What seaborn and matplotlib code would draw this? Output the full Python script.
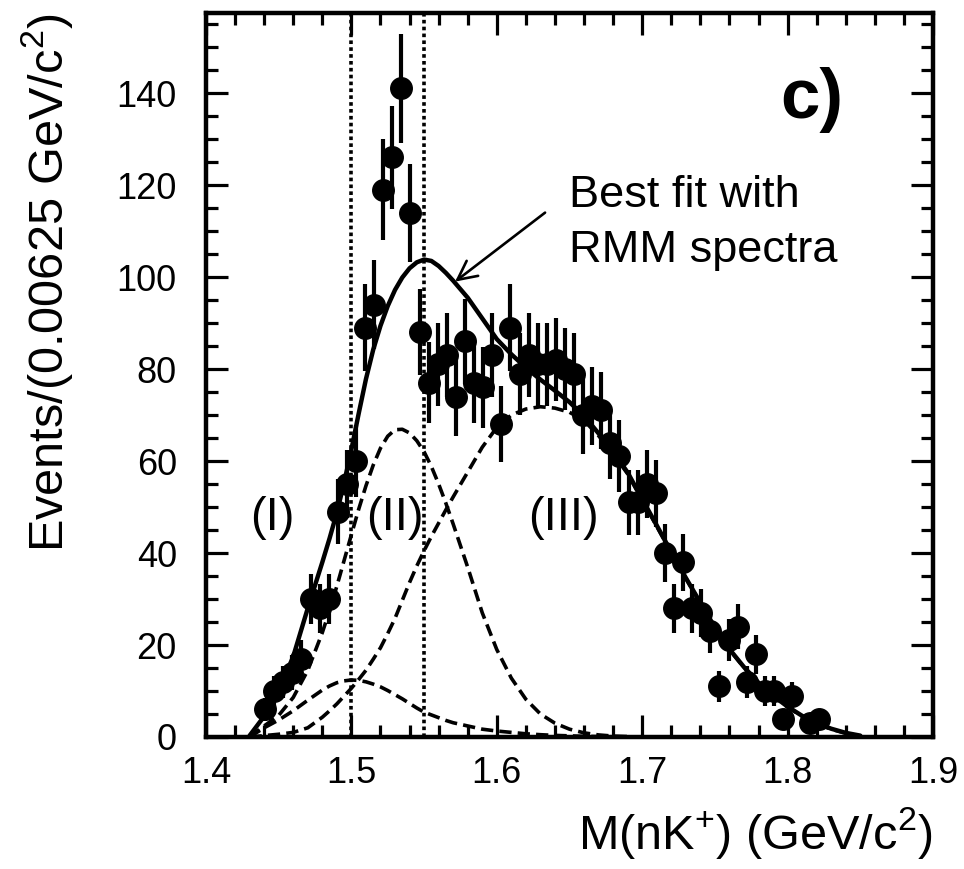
import numpy as np
import pandas as pd
import matplotlib
matplotlib.use("Agg")
import matplotlib.pyplot as plt
from matplotlib.ticker import MultipleLocator, FormatStrFormatter
import seaborn as sns

# nK+ invariant-mass histogram: bin centres (GeV/c^2) and event counts per bin
mass = [1.440625, 1.446875, 1.453125, 1.459375, 1.465625, 1.471875, 1.478125,
        1.484375, 1.490625, 1.496875, 1.503125, 1.509375, 1.515625, 1.521875,
        1.528125, 1.534375, 1.540625, 1.546875, 1.553125, 1.559375, 1.565625,
        1.571875, 1.578125, 1.584375, 1.590625, 1.596875, 1.603125, 1.609375,
        1.615625, 1.621875, 1.628125, 1.634375, 1.640625, 1.646875, 1.653125,
        1.659375, 1.665625, 1.671875, 1.678125, 1.684375, 1.690625, 1.696875,
        1.703125, 1.709375, 1.715625, 1.721875, 1.728125, 1.734375, 1.740625,
        1.746875, 1.753125, 1.759375, 1.765625, 1.771875, 1.778125, 1.784375,
        1.790625, 1.796875, 1.803125, 1.815625, 1.821875]
counts = [6, 10, 12, 14, 17, 30, 28, 30, 49, 55, 60, 89, 94, 119, 126, 141,
          114, 88, 77, 81, 83, 74, 86, 77, 76, 83, 68, 89, 79, 83, 81, 81, 82,
          80, 79, 70, 72, 71, 64, 61, 51, 51, 55, 53, 40, 28, 38, 28, 27, 23,
          11, 21, 24, 12, 18, 10, 10, 4, 9, 3, 4]

# Fit curves sampled on a mass grid (finer around the peak)
fit_mass = [1.43, 1.44, 1.45, 1.46, 1.47, 1.48, 1.485, 1.49, 1.495, 1.50,
            1.505, 1.51, 1.515, 1.52, 1.525, 1.53, 1.535, 1.54, 1.545, 1.55,
            1.555, 1.56, 1.565, 1.57, 1.58, 1.59, 1.60, 1.61, 1.62, 1.63,
            1.64, 1.65, 1.66, 1.67, 1.68, 1.69, 1.70, 1.71, 1.72, 1.73, 1.74,
            1.75, 1.76, 1.77, 1.78, 1.79, 1.80, 1.81, 1.82, 1.83, 1.84, 1.85]
fit_total = [0.3, 4.5, 10.0, 17.5, 28.0, 38.0, 43.2, 48.8, 55.3, 62.5,
             70.3, 77.8, 84.2, 89.4, 93.7, 97.2, 99.9, 101.9, 103.2, 103.8,
             103.5, 102.4, 100.9, 99.2, 95.5, 91.0, 86.5, 83.2, 80.3, 77.7,
             75.3, 72.8, 69.8, 66.0, 62.0, 57.5, 51.7, 46.0, 40.2, 34.6, 29.2,
             23.8, 19.1, 15.2, 11.8, 9.0, 6.6, 4.6, 3.0, 1.8, 0.9, 0.3]
nan = np.nan
fit_I = [0.0, 2.0, 3.7, 5.7, 8.0, 10.2, 11.1, 11.8, 12.2, 12.4,
         12.3, 12.0, 11.5, 10.9, 10.1, 9.2, 8.3, 7.3, 6.3, 5.4,
         4.8, 4.2, 3.6, 3.1, 2.4, 1.7, 1.3, 1.0, 0.7, 0.5,
         0.35, 0.25, 0.15, 0.1, 0.05, nan, nan, nan, nan, nan, nan,
         nan, nan, nan, nan, nan, nan, nan, nan, nan, nan, nan]
fit_II = [0.0, 2.4, 4.7, 8.6, 14.5, 22.7, 27.5, 32.8, 38.4, 44.0,
          49.5, 54.6, 59.1, 62.8, 65.4, 66.8, 66.9, 66.1, 64.4, 62.0,
          58.8, 55.0, 50.8, 46.3, 36.9, 27.0, 19.0, 12.8, 8.2, 5.0,
          3.0, 1.7, 0.9, 0.45, 0.2, 0.1, nan, nan, nan, nan, nan,
          nan, nan, nan, nan, nan, nan, nan, nan, nan, nan, nan]
fit_III = [0.0, 0.3, 0.6, 1.0, 2.0, 4.3, 5.7, 7.2, 8.9, 10.6,
           12.5, 14.5, 16.9, 19.4, 22.5, 25.8, 29.7, 33.6, 37.2, 40.5,
           43.6, 46.5, 49.4, 52.2, 57.6, 63.0, 67.3, 70.0, 71.3, 71.8,
           71.5, 70.6, 68.8, 65.5, 61.6, 57.2, 51.5, 45.8, 40.1, 34.5, 29.1,
           23.7, 19.0, 15.1, 11.7, 8.9, 6.5, 4.5, 2.9, 1.7, 0.8, 0.2]

# Mass window boundaries
window_edges = [1.50, 1.55]

sns.set_theme(style="ticks")
plt.rcParams["font.family"] = ["Liberation Sans", "DejaVu Sans"]
plt.rcParams["mathtext.fontset"] = "custom"
plt.rcParams["mathtext.rm"] = "Liberation Sans"
plt.rcParams["mathtext.it"] = "Liberation Sans:italic"
plt.rcParams["mathtext.bf"] = "Liberation Sans:bold"
for key in ["text.color", "axes.labelcolor", "xtick.color", "ytick.color",
            "axes.edgecolor"]:
    plt.rcParams[key] = "black"

fig = plt.figure(figsize=(9.64, 8.69), dpi=100)
ax = fig.add_axes([206 / 964, 132 / 869, 727 / 964, 724 / 869])

fits = pd.DataFrame({"mass": fit_mass, "total": fit_total,
                     "I": fit_I, "II": fit_II, "III": fit_III})

for comp in ["I", "II", "III"]:
    sns.lineplot(data=fits, x="mass", y=comp, ax=ax, color="black",
                 lw=2.6, linestyle=(0, (3.4, 1.7)), estimator=None, zorder=2)
sns.lineplot(data=fits, x="mass", y="total", ax=ax, color="black", lw=3.2,
             estimator=None, zorder=2)

for edge in window_edges:
    ax.axvline(edge, color="black", lw=2.6, linestyle=(0, (1.0, 0.9)), zorder=1)

# Poisson uncertainties on the counts
count_err = np.sqrt(np.asarray(counts, dtype=float))
ax.errorbar(mass, counts, yerr=count_err, fmt="o", color="black", ms=15.5,
            elinewidth=3, capsize=0, zorder=3)

ax.set_xlim(1.4, 1.9)
ax.set_ylim(0, 157.4)
ax.xaxis.set_major_locator(MultipleLocator(0.1))
ax.xaxis.set_minor_locator(MultipleLocator(0.02))
ax.yaxis.set_major_locator(MultipleLocator(20))
ax.yaxis.set_minor_locator(MultipleLocator(5))
ax.xaxis.set_major_formatter(FormatStrFormatter("%.1f"))

ax.tick_params(which="both", direction="in", top=True, right=True,
               width=2.3, color="black", labelcolor="black")
ax.tick_params(which="major", length=16, labelsize=26)
ax.tick_params(axis="x", which="major", pad=14)
ax.tick_params(axis="y", which="major", pad=21)
ax.tick_params(which="minor", length=8.5)
for sp in ax.spines.values():
    sp.set_linewidth(3.2)
    sp.set_color("black")

ax.set_xlabel("M(nK$^{+}$) (GeV/c$^{2}$)", loc="right", fontsize=35,
              labelpad=10)
ax.set_ylabel("Events/(0.00625 GeV/c$^{2}$)", loc="top", fontsize=35,
              labelpad=30)

ax.text(1.6495, 115.3, "Best fit with", fontsize=32.5, ha="left", va="baseline")
ax.text(1.6495, 103.3, "RMM spectra", fontsize=32.5, ha="left", va="baseline")
ax.annotate("", xy=(1.5713, 99), xytext=(1.6332, 114),
            arrowprops=dict(arrowstyle="->", lw=1.9, color="black",
                            mutation_scale=34, shrinkA=0, shrinkB=0))

for label, xpos in [("(I)", 1.4454), ("(II)", 1.530), ("(III)", 1.6455)]:
    ax.text(xpos, 47.6, label, fontsize=34, ha="center", va="center")

ax.text(1.8168, 138.5, "c)", fontsize=51, fontweight="bold",
        ha="center", va="center")

fig.savefig("out.png", dpi=100)
